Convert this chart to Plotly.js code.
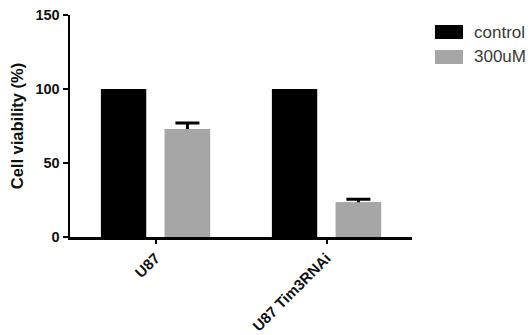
<!DOCTYPE html>
<html>
<head>
<meta charset="utf-8">
<script src="https://cdn.plot.ly/plotly-3.0.1.min.js"></script>
<style>html,body{margin:0;padding:0;background:#fff;}#chart{width:530px;height:335px;}</style>
</head>
<body>
<div id="chart"></div>
<script>
var categories = ["U87", "U87 Tim3RNAi"];
var controlValues = [100, 100];
var treatedValues = [73, 23.5];
var treatedErrors = [4, 2];
var seriesNames = ["control", "300uM"];
var yTicks = [0, 50, 100, 150];

var fontFam = "Arial, 'Liberation Sans', sans-serif";
var grey = "#a6a6a6";

var traces = [
  {
    type: "bar", name: seriesNames[0], x: categories, y: controlValues, offsetgroup: "a",
    marker: {color: "#000000", line: {width: 0}}, showlegend: false, hoverinfo: "none"
  },
  {
    // error bars (symmetric), lower half hidden under the bar drawn next
    type: "bar", name: seriesNames[1] + " err", x: categories, y: treatedValues, offsetgroup: "b",
    marker: {color: grey, line: {width: 0}}, showlegend: false, hoverinfo: "none",
    error_y: {type: "data", array: treatedErrors, color: "#000000", thickness: 3, width: 12}
  },
  {
    type: "bar", name: seriesNames[1], x: categories, y: treatedValues, offsetgroup: "b",
    marker: {color: grey, line: {width: 0}}, showlegend: false, hoverinfo: "none"
  }
];

var layout = {
  width: 530, height: 335,
  margin: {l: 70, r: 118, t: 15, b: 98, pad: 0},
  paper_bgcolor: "#ffffff", plot_bgcolor: "#ffffff",
  barmode: "group", bargap: 0.253, bargroupgap: 0.29,
  font: {family: fontFam, color: "#000"},
  xaxis: {
    type: "category", range: [-0.5, 1.5],
    showline: true, linecolor: "#000", linewidth: 2.5,
    ticks: "outside", ticklen: 4, tickwidth: 2, tickcolor: "#000",
    tickangle: -45, showgrid: false, zeroline: false,
    tickfont: {family: fontFam, size: 15, weight: "bold", color: "#111"}
  },
  yaxis: {
    range: [0, 150], tickvals: yTicks, ticktext: yTicks.map(String),
    showline: true, linecolor: "#000", linewidth: 2.5,
    ticks: "outside", ticklen: 5, tickwidth: 2.5, tickcolor: "#000",
    showgrid: false, zeroline: false,
    tickfont: {family: fontFam, size: 14.5, weight: "bold", color: "#111"},
    title: {text: "Cell viability (%)", standoff: 8,
            font: {family: fontFam, size: 16.5, weight: "bold", color: "#111"}}
  },
  shapes: [
    {type: "rect", xref: "paper", yref: "paper", xsizemode: "pixel", ysizemode: "pixel",
     xanchor: 1, yanchor: 1, x0: 23, x1: 51, y0: -24, y1: -10,
     fillcolor: "#000000", line: {width: 0}},
    {type: "rect", xref: "paper", yref: "paper", xsizemode: "pixel", ysizemode: "pixel",
     xanchor: 1, yanchor: 1, x0: 23, x1: 51, y0: -49, y1: -35,
     fillcolor: grey, line: {width: 0}}
  ],
  annotations: [
    {xref: "paper", yref: "paper", x: 1.175, y: 0.923, xanchor: "left", yanchor: "middle",
     showarrow: false, text: seriesNames[0], font: {family: fontFam, size: 17, color: "#3a3a3a"}},
    {xref: "paper", yref: "paper", x: 1.175, y: 0.811, xanchor: "left", yanchor: "middle",
     showarrow: false, text: seriesNames[1], font: {family: fontFam, size: 17, color: "#3a3a3a"}}
  ]
};

Plotly.newPlot("chart", traces, layout, {staticPlot: true, displayModeBar: false});
</script>
</body>
</html>
